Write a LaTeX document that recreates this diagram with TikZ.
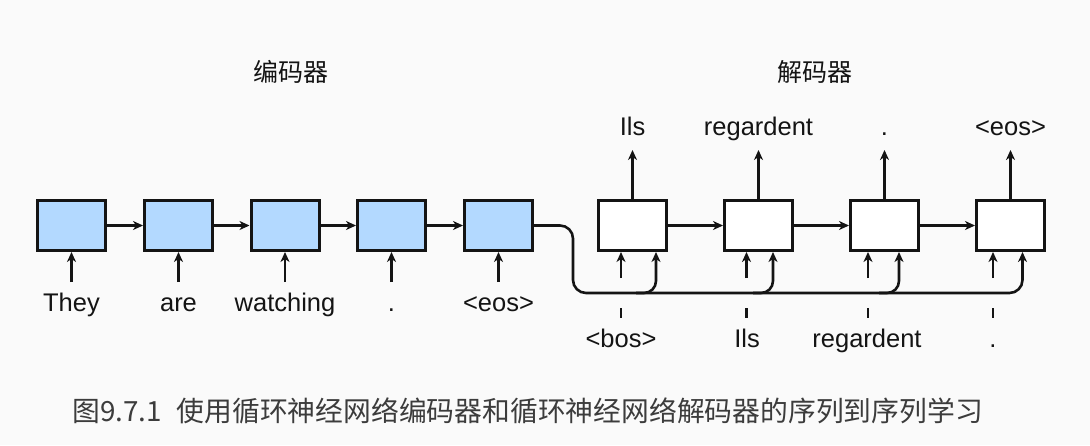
\documentclass[tikz,border=0pt]{standalone}
\usepackage{fontspec}
\setmainfont{Liberation Sans}
\newfontfamily\cjkf{Noto Sans CJK SC}
\usetikzlibrary{arrows.meta,calc}
\definecolor{boxblue}{RGB}{179,217,255}
\definecolor{bgc}{RGB}{250,250,250}
\definecolor{capc}{RGB}{60,60,60}
\definecolor{inkc}{RGB}{20,20,20}
\begin{document}
\begin{tikzpicture}[x=1pt,y=-1pt,
  cell/.style={draw=inkc, line width=3pt, minimum width=68pt, minimum height=50pt, inner sep=0pt},
  enc/.style={cell, fill=boxblue},
  dec/.style={cell, fill=white},
  arr/.style={draw=inkc, line width=2.6pt, -{Stealth[length=10pt,width=9pt,inset=3pt]}},
  wire/.style={draw=inkc, line width=2.6pt},
  lab/.style={font=\fontsize{25.5}{30}\selectfont, text=inkc, inner sep=0pt, anchor=base},
  ttl/.style={font=\cjkf\fontsize{25}{30}\selectfont, text=inkc, inner sep=0pt},
  captxt/.style={font=\cjkf\fontsize{27.8}{32}\selectfont, text=capc, inner sep=0pt, anchor=west}
]
\fill[bgc] (0,0) rectangle (1090,445);
\useasboundingbox (0,0) rectangle (1090,445);

% titles
\node[ttl] (tenc) at (291,72) {编码器};
\node[ttl] (tdec) at (815,72) {解码器};

% encoder boxes
\foreach \i/\x in {1/71.5,2/178.5,3/285,4/391.5,5/498.5}
  \node[enc] (e\i) at (\x,225.5) {};
% encoder labels
\node[lab] (x1) at (71.5,311) {They};
\node[lab] (x2) at (178.5,311) {are};
\node[lab] (x3) at (285,311) {watching};
\node[lab] (x4) at (391.5,311) {.};
\node[lab] (x5) at (498.5,311) {<eos>};
\foreach \i in {1,...,5}
  \draw[arr] ($(e\i.south)+(0,30)$) -- (e\i.south);
\foreach \i/\j in {1/2,2/3,3/4,4/5}
  \draw[arr] (e\i.east) -- (e\j.west);

% decoder boxes
\foreach \i/\x in {1/632.5,2/758.5,3/884.5,4/1010.5}
  \node[dec] (d\i) at (\x,225.5) {};
\foreach \i/\j in {1/2,2/3,3/4}
  \draw[arr] (d\i.east) -- (d\j.west);

% decoder outputs
\node[lab] (y1) at (632.5,135) {Ils};
\node[lab] (y2) at (758.5,135) {regardent};
\node[lab] (y3) at (884.5,135) {.};
\node[lab] (y4) at (1010.5,135) {<eos>};
\foreach \i in {1,...,4}
  \draw[arr] (d\i.north) -- ($(d\i.north)+(0,-49)$);

% decoder inputs
\node[lab] (z1) at (621,347) {<bos>};
\node[lab] (z2) at (747,347) {Ils};
\node[lab] (z3) at (867,347) {regardent};
\node[lab] (z4) at (993,347) {.};
\foreach \i/\l/\r in {1/621/656,2/746.5/773,3/868/899,4/993/1022.5}{
  \coordinate (in\i) at (\l,252);
  \draw[arr] ($(in\i)+(0,26)$) -- (in\i);
  \draw[wire] ($(in\i)+(0,56)$) -- ($(in\i)+(0,66)$);
  \coordinate (st\i) at (\r,252);
}
% context bus
\coordinate (b0) at (573,293);
\draw[arr, rounded corners=13pt] (e5.east) -| (b0) -- (b0 -| st4) -- (st4);
\foreach \i in {1,2,3}
  \draw[arr, rounded corners=12pt] ($(b0 -| st\i)+(-20,0)$) -| (st\i);

% caption
\node[captxt] (cp) at (72,411) {图9.7.1\hspace{15pt}使用循环神经网络编码器和循环神经网络解码器的序列到序列学习};
\end{tikzpicture}
\end{document}
